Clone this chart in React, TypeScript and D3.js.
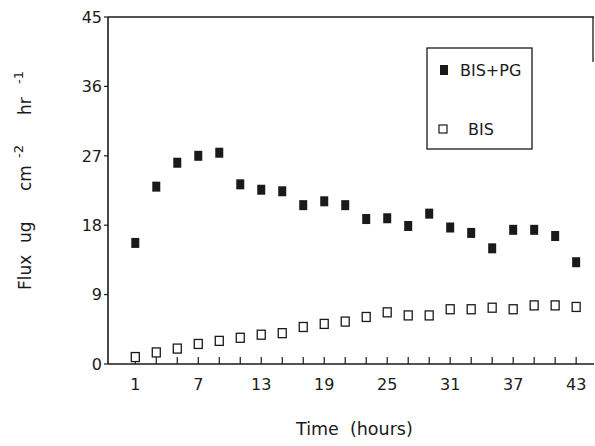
import React from 'react';
import * as d3 from 'd3';

const width = 595;
const height = 446;

// hours sampled (every 2 h)
const hours = [1, 3, 5, 7, 9, 11, 13, 15, 17, 19, 21, 23, 25, 27, 29, 31, 33, 35, 37, 39, 41, 43];
const bisPg = [15.7, 23.0, 26.1, 27.0, 27.4, 23.3, 22.6, 22.4, 20.6, 21.1, 20.6, 18.8, 18.9, 17.9, 19.5, 17.7, 17.0, 15.0, 17.4, 17.4, 16.6, 13.2];
const bis = [0.9, 1.5, 2.0, 2.6, 3.0, 3.4, 3.8, 4.0, 4.8, 5.2, 5.5, 6.1, 6.7, 6.3, 6.3, 7.1, 7.1, 7.3, 7.1, 7.6, 7.6, 7.4];

const xTickLabels = [1, 7, 13, 19, 25, 31, 37, 43];
const yTicks = [0, 9, 18, 27, 36, 45];

const font = '"DejaVu Sans", Verdana, sans-serif';
const ink = '#1a1a1a';

const x = d3.scaleLinear().domain([-1.6, 44.7]).range([108, 594]);
const y = d3.scaleLinear().domain([0, 45]).range([364, 17]);

// y title pieces: [text, start y along axis, superscript?]
const yTitle: [string, number, boolean][] = [
  ['Flux', 290, false],
  ['ug', 243, false],
  ['cm', 191, false],
  ['-2', 158, true],
  ['hr', 115, false],
  ['-1', 84, true],
];

export default function App() {
  const x0 = x.range()[0];
  const x1 = x.range()[1];
  const yb = y(0);
  const yt = y(45);
  return (
    <svg width={width} height={height} style={{ position: 'absolute', left: 0, top: 0, background: '#fff' }}
      fontFamily={font} fill={ink}>
      {/* frame */}
      <line x1={x0} x2={x0} y1={yt} y2={yb} stroke={ink} strokeWidth={1.6} />
      <line x1={x0} x2={x1} y1={yb} y2={yb} stroke={ink} strokeWidth={1.6} />
      <line x1={x0} x2={x1} y1={yt} y2={yt} stroke={ink} strokeWidth={1.3} />
      <line x1={x1 - 1} x2={x1 - 1} y1={yt} y2={62} stroke={ink} strokeWidth={1.3} />

      {/* y ticks */}
      {yTicks.map(t => (
        <g key={'y' + t}>
          <line x1={x0 - 4} x2={x0} y1={y(t)} y2={y(t)} stroke={ink} strokeWidth={1.2} />
          <text x={x0 - 6} y={y(t)} dy="0.36em" textAnchor="end" fontSize={16}>{t}</text>
        </g>
      ))}

      {/* x ticks */}
      {hours.map(h => (
        <line key={'xt' + h} x1={x(h)} x2={x(h)} y1={yb} y2={yb - 7} stroke={ink} strokeWidth={1.2} />
      ))}
      {xTickLabels.map(h => (
        <text key={'xl' + h} x={x(h)} y={390} textAnchor="middle" fontSize={16}>{h}</text>
      ))}

      {/* BIS+PG filled squares */}
      {hours.map((h, i) => (
        <rect key={'f' + h} x={x(h) - 4} y={y(bisPg[i]) - 5} width={8} height={10} fill={ink} />
      ))}
      {/* BIS open squares */}
      {hours.map((h, i) => (
        <rect key={'o' + h} x={x(h) - 4} y={y(bis[i]) - 4.5} width={8} height={9} fill="#fff" stroke={ink} strokeWidth={1.3} />
      ))}

      {/* legend */}
      <rect x={427} y={48} width={105} height={101} fill="none" stroke={ink} strokeWidth={1.3} />
      <rect x={440} y={65} width={8} height={10} fill={ink} />
      <text x={460} y={76} fontSize={16}>BIS+PG</text>
      <rect x={439} y={125} width={8} height={8} fill="#fff" stroke={ink} strokeWidth={1.2} />
      <text x={468} y={135} fontSize={16}>BIS</text>

      {/* axis titles */}
      <text x={296} y={435} fontSize={17.5} xmlSpace="preserve" style={{ whiteSpace: 'pre' }}>Time  (hours)</text>
      <g transform="rotate(-90)">
        {yTitle.map(([s, pos, sup]) => (
          <text key={s} x={-pos} y={sup ? 23 : 31} fontSize={sup ? 13 : 17}>{s}</text>
        ))}
      </g>
    </svg>
  );
}
